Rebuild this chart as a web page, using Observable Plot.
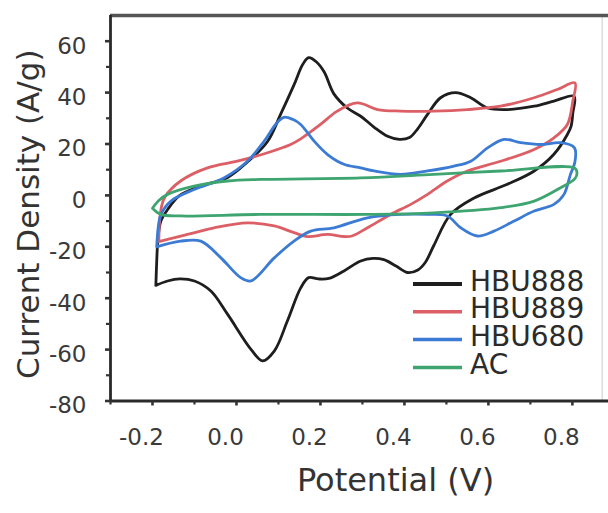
<!DOCTYPE html>
<html><head><meta charset="utf-8">
<script src="https://cdn.jsdelivr.net/npm/d3@7"></script>
<script src="https://cdn.jsdelivr.net/npm/@observablehq/plot@0.6"></script>
<style>html,body{margin:0;padding:0;background:#fff}svg{display:block}</style>
</head><body><div id="chart"></div>
<script>
// ---- data ----
const seriesNames = ["HBU888", "HBU889", "HBU680", "AC"];
const seriesColors = ["#1e1e1e", "#dc5f66", "#3b7bd4", "#3ea571"];

const hbu888V = [-0.192,-0.19,-0.187,-0.18,-0.164,-0.135,-0.085,-0.021,0.026,0.074,0.105,0.137,0.158,0.172,0.19,0.209,0.232,0.264,0.296,0.328,0.36,0.388,0.412,0.432,0.455,0.486,0.522,0.558,0.598,0.645,0.709,0.756,0.804,
  0.801,0.797,0.788,0.756,0.709,0.645,0.566,0.51,0.47,0.45,0.432,0.407,0.38,0.351,0.325,0.296,0.256,0.22,0.195,0.172,0.153,0.121,0.09,0.062,0.035,-0.021,-0.061,-0.1,-0.135,-0.164,-0.192];
const hbu888I = [-35,-26,-17,-10,-5.5,0,3.6,7,13,21,31.5,43,51,53.6,52,48,39.5,34,30.8,26.5,23,21.8,22.5,26,31.5,38,40,38,34,33.4,34.7,36.7,38.6,
  32,27,23.7,16,9.5,4.3,-1,-7.4,-19.5,-26,-29,-30,-27.5,-25,-24.5,-25.5,-29.4,-32.3,-32.5,-32,-36,-49,-60.6,-64.4,-60,-46.3,-37.2,-33.3,-32.5,-33.3,-35];

const hbu889V = [-0.185,-0.183,-0.178,-0.17,-0.133,-0.069,0.002,0.074,0.129,0.153,0.2,0.24,0.288,0.336,0.391,0.47,0.55,0.629,0.709,0.764,0.806,
  0.801,0.788,0.756,0.709,0.629,0.55,0.502,0.455,0.415,0.367,0.312,0.275,0.256,0.217,0.169,0.137,0.09,0.026,-0.053,-0.117,-0.164,-0.185];
const hbu889I = [-18,-10,-4,-0.5,5.6,10.7,13.3,16.6,19.8,22,27.6,32.8,36,33.4,32.8,32.8,33.4,34.7,38,41.2,43.8,
  36.7,27.6,22.4,17.9,13.3,9.5,5.6,0.4,-3.5,-7.4,-12.6,-15.8,-16,-15.2,-16,-14.5,-11.9,-10.7,-12.6,-15.2,-17.1,-18];

const hbu680V = [-0.19,-0.186,-0.18,-0.156,-0.101,-0.03,0.026,0.066,0.095,0.113,0.135,0.153,0.185,0.217,0.256,0.296,0.328,0.391,0.455,0.518,0.558,0.598,0.637,0.677,0.725,0.772,0.805,
  0.806,0.795,0.78,0.756,0.709,0.661,0.613,0.574,0.534,0.502,0.455,0.391,0.312,0.232,0.177,0.137,0.09,0.034,0.01,-0.037,-0.085,-0.133,-0.19];
const hbu680I = [-20,-12,-7.4,-2.2,2.3,6.8,13.3,21.1,28,30.4,29.5,27.6,21.1,15.9,12.1,10.7,9.5,8.2,9.5,11.4,13.3,18.5,21.8,20.5,19.8,20.5,18.5,
  13,8,0.4,-3.5,-6.1,-10,-13.9,-15.8,-12.6,-8,-7.4,-7.4,-8.7,-12.6,-13.9,-17.8,-24.3,-33.3,-32,-24.3,-17.8,-17.8,-20];

const acV = [-0.2,-0.185,-0.164,-0.101,-0.021,0.058,0.296,0.47,0.629,0.805,0.811,0.806,0.772,0.709,0.629,0.47,0.312,0.058,-0.133,-0.18,-0.2];
const acI = [-5,-2,0.4,3.6,5.6,6.2,6.8,8.2,9.5,10.7,8.8,6.5,3,-2.2,-4.8,-6.8,-7.4,-7.4,-8,-7.4,-5];

const xDomain = [-0.3, 0.886];
const yDomain = [-80, 70];
const frameRight = 0.871;
const xMajorTicks = [-0.2, 0, 0.2, 0.4, 0.6, 0.8];
const xTickLabels = ["-0.2", "0.0", "0.2", "0.4", "0.6", "0.8"];
const xMinorTicks = [-0.3, -0.1, 0.1, 0.3, 0.5, 0.7];
const yMajorTicks = [-80, -60, -40, -20, 0, 20, 40, 60];
const yTickLabels = ["-80", "-60", "-40", "-20", "0", "20", "40", "60"];
const yMinorTicks = [-70, -50, -30, -10, 10, 30, 50];
const xTitle = "Potential (V)";
const yTitle = "Current Density (A/g)";

// ---- build table ----
const seriesV = [hbu888V, hbu889V, hbu680V, acV];
const seriesI = [hbu888I, hbu889I, hbu680I, acI];
const rows = [];
seriesNames.forEach((name, k) => {
  seriesV[k].forEach((v, j) => rows.push({series: name, v, i: seriesI[k][j]}));
});

const FONT = "DejaVu Sans";
const chart = Plot.plot({
  width: 608,
  height: 513,
  marginLeft: 110,
  marginRight: 0,
  marginTop: 15,
  marginBottom: 112.5,
  style: {fontFamily: FONT, color: "#333", background: "#fff"},
  x: {domain: xDomain, axis: null},
  y: {domain: yDomain, axis: null},
  color: {domain: seriesNames, range: seriesColors},
  marks: [
    Plot.ruleX([frameRight], {stroke: "#dcdcdc", strokeWidth: 1.5}),
    Plot.line(rows, {x: "v", y: "i", z: "series", stroke: "series", strokeWidth: 2.8, curve: "catmull-rom"}),
    Plot.ruleY([yDomain[1]], {stroke: "#555", strokeWidth: 3.5}),
    Plot.ruleX([xDomain[0]], {stroke: "#2a2a2a", strokeWidth: 2.8}),
    Plot.ruleY([yDomain[0]], {stroke: "#2a2a2a", strokeWidth: 2.8}),
    Plot.axisX(xMajorTicks, {label: null, tickSize: 5, strokeWidth: 2.6, tickFormat: () => ""}),
    Plot.axisX(xMinorTicks, {label: null, tickSize: 4, strokeWidth: 2.2, tickFormat: () => ""}),
    Plot.axisX(xMajorTicks, {label: null, tickSize: 0, tickPadding: 28, dx: -11, fontSize: 23, fill: "#3a3a3a",
      tickFormat: d => xTickLabels[xMajorTicks.indexOf(d)]}),
    Plot.axisY(yMajorTicks, {label: null, tickSize: 5, strokeWidth: 2.6, tickFormat: () => ""}),
    Plot.axisY(yMinorTicks, {label: null, tickSize: 4, strokeWidth: 2.2, tickFormat: () => ""}),
    Plot.axisY(yMajorTicks, {label: null, tickSize: 0, tickPadding: 24, dy: 5, fontSize: 23, fill: "#3a3a3a",
      tickFormat: d => yTickLabels[yMajorTicks.indexOf(d)]}),
    Plot.text([yTitle], {text: d => d, frameAnchor: "left", textAnchor: "middle", dx: -81, dy: 6, rotate: -90, fontSize: 31, fill: "#333"}),
    Plot.text([xTitle], {text: d => d, frameAnchor: "bottom", textAnchor: "middle", dx: 36, dy: 90, fontSize: 32, fill: "#333"})
  ]
});

// ---- legend (inside the plot, lower right) ----
const svg = d3.select(chart);
const lg = svg.append("g").attr("font-family", FONT).attr("font-size", 28).attr("fill", "#2b2b2b")
  .attr("text-anchor", "start");
const legendLineX0 = 413, legendLineX1 = 462, legendTextX = 470, legendY0 = 284, legendStep = 27.8;
seriesNames.forEach((name, k) => {
  const yy = legendY0 + k * legendStep;
  lg.append("line").attr("x1", legendLineX0).attr("x2", legendLineX1).attr("y1", yy).attr("y2", yy)
    .attr("stroke", seriesColors[k]).attr("stroke-width", k === 0 ? 4 : 3.5);
  lg.append("text").attr("x", legendTextX).attr("y", yy + 6.5).attr("text-anchor", "start").text(name);
});

document.getElementById("chart").appendChild(chart);
</script>
</body></html>
